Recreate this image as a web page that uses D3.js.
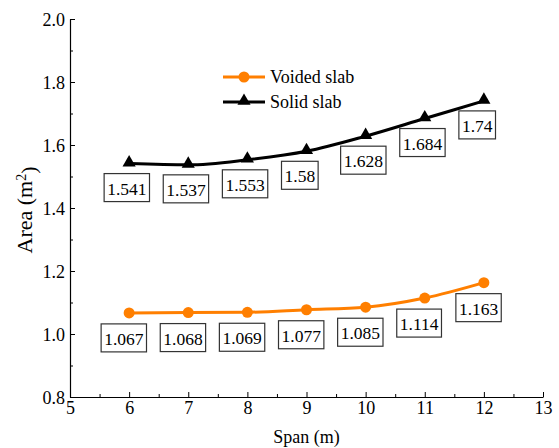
<!DOCTYPE html>
<html>
<head>
<meta charset="utf-8">
<script src="https://cdn.jsdelivr.net/npm/d3@7"></script>
<style>
  body { margin: 0; background: #fff; }
  svg text { font-family: "Liberation Serif", "Times New Roman", serif; fill: #000; }
  .line-voided { fill: none; stroke: #ff7f00; stroke-width: 3; }
  .line-solid { fill: none; stroke: #000; stroke-width: 3; }
  .val-box { fill: #fff; stroke: #333; stroke-width: 1.2; }
</style>
</head>
<body>
<svg id="chart" width="559" height="448"></svg>
<script>
var spans = [6, 7, 8, 9, 10, 11, 12];
var voidedArea = [1.067, 1.068, 1.069, 1.077, 1.085, 1.114, 1.163];
var solidArea = [1.541, 1.537, 1.553, 1.58, 1.628, 1.684, 1.74];
var xTicks = [5, 6, 7, 8, 9, 10, 11, 12, 13];
var yTicks = [0.8, 1.0, 1.2, 1.4, 1.6, 1.8, 2.0];

var margin = {top: 19, right: 16, bottom: 51, left: 70};
var width = 559 - margin.left - margin.right,
    height = 448 - margin.top - margin.bottom;

var svg = d3.select("#chart")
  .append("g")
    .attr("transform", "translate(" + margin.left + "," + margin.top + ")");

var x = d3.scaleLinear().domain([5, 13]).range([0, width]);
var y = d3.scaleLinear().domain([0.8, 2.0]).range([height, 0]);

// minor ticks first, then major axes on top
svg.append("g")
    .attr("transform", "translate(0," + height + ")")
    .call(d3.axisBottom(x).tickValues(d3.range(5.5, 13, 1)).tickSize(-3).tickFormat(""))
    .call(function(g) { g.select(".domain").remove(); });
svg.append("g")
    .call(d3.axisLeft(y).tickValues(d3.range(0.9, 2.0, 0.2)).tickSize(-3).tickFormat(""))
    .call(function(g) { g.select(".domain").remove(); });

var xAxis = svg.append("g")
    .attr("transform", "translate(0," + height + ")")
    .call(d3.axisBottom(x).tickValues(xTicks).tickSize(-5).tickPadding(3).tickSizeOuter(0).tickFormat(d3.format("d")));
var yAxis = svg.append("g")
    .call(d3.axisLeft(y).tickValues(yTicks).tickSize(-5).tickPadding(5).tickSizeOuter(0).tickFormat(d3.format(".1f")));

[xAxis, yAxis].forEach(function(a) {
  a.selectAll("text").style("font-size", "18px").style("font-family", "Liberation Serif");
  a.select(".domain").attr("stroke-width", 1.2);
});
yAxis.selectAll("text").attr("dy", "0.35em");
xAxis.selectAll("text").attr("dy", "0.75em");

// axis titles
svg.append("text")
    .attr("x", width / 2)
    .attr("y", height + 46)
    .attr("text-anchor", "middle")
    .style("font-size", "18px")
    .text("Span (m)");

var yTitle = svg.append("text")
    .attr("transform", "translate(" + (-38) + "," + (height / 2 + 2) + ") rotate(-90)")
    .attr("text-anchor", "middle")
    .style("font-size", "22px");
yTitle.append("tspan").text("Area (m");
yTitle.append("tspan").attr("dy", "-0.45em").style("font-size", "14px").text("2");
yTitle.append("tspan").attr("dy", "0.45em").text(")");

var curve = d3.line()
    .x(function(d) { return x(d[0]); })
    .y(function(d) { return y(d[1]); })
    .curve(d3.curveMonotoneX);

var voidedPts = spans.map(function(s, i) { return [s, voidedArea[i]]; });
var solidPts = spans.map(function(s, i) { return [s, solidArea[i]]; });

svg.append("path").datum(voidedPts).attr("class", "line-voided").attr("d", curve);
svg.append("path").datum(solidPts).attr("class", "line-solid").attr("d", curve);

svg.selectAll(".pt-voided")
  .data(voidedPts)
  .enter().append("circle")
    .attr("cx", function(d) { return x(d[0]); })
    .attr("cy", function(d) { return y(d[1]); })
    .attr("r", 5.5)
    .attr("fill", "#ff7f00");

var tri = d3.symbol().type(d3.symbolTriangle).size(75);
svg.selectAll(".pt-solid")
  .data(solidPts)
  .enter().append("path")
    .attr("transform", function(d) { return "translate(" + x(d[0]) + "," + (y(d[1]) - 1) + ")"; })
    .attr("d", tri)
    .attr("fill", "#000");

// value labels in boxes
function drawLabels(pts, dx, dy) {
  pts.forEach(function(d) {
    var px = x(d[0]), py = y(d[1]);
    var g = svg.append("g");
    var rect = g.append("rect").attr("class", "val-box");
    var t = g.append("text")
        .attr("x", px + dx + 3)
        .attr("y", py + dy + 21)
        .style("font-size", "17.5px")
        .text(d3.format("")(d[1]));
    var w = t.node().getComputedTextLength();
    rect.attr("x", px + dx).attr("y", py + dy)
        .attr("width", w + 6).attr("height", 28);
  });
}
drawLabels(solidPts, -25, 10);
drawLabels(voidedPts, -28, 11);

// legend
var legend = svg.append("g").attr("transform", "translate(" + (223 - margin.left) + "," + (77 - margin.top) + ")");
legend.append("line").attr("x1", 0).attr("x2", 42).attr("y1", 0).attr("y2", 0)
    .attr("stroke", "#ff7f00").attr("stroke-width", 3);
legend.append("circle").attr("cx", 21).attr("cy", 0).attr("r", 5.5).attr("fill", "#ff7f00");
legend.append("text").attr("x", 47).attr("y", 0).attr("dy", "0.35em").style("font-size", "18px").text("Voided slab");
legend.append("line").attr("x1", 0).attr("x2", 42).attr("y1", 25).attr("y2", 25)
    .attr("stroke", "#000").attr("stroke-width", 3);
legend.append("path").attr("transform", "translate(21,24)").attr("d", tri).attr("fill", "#000");
legend.append("text").attr("x", 47).attr("y", 25).attr("dy", "0.35em").style("font-size", "18px").text("Solid slab");
</script>
</body>
</html>
